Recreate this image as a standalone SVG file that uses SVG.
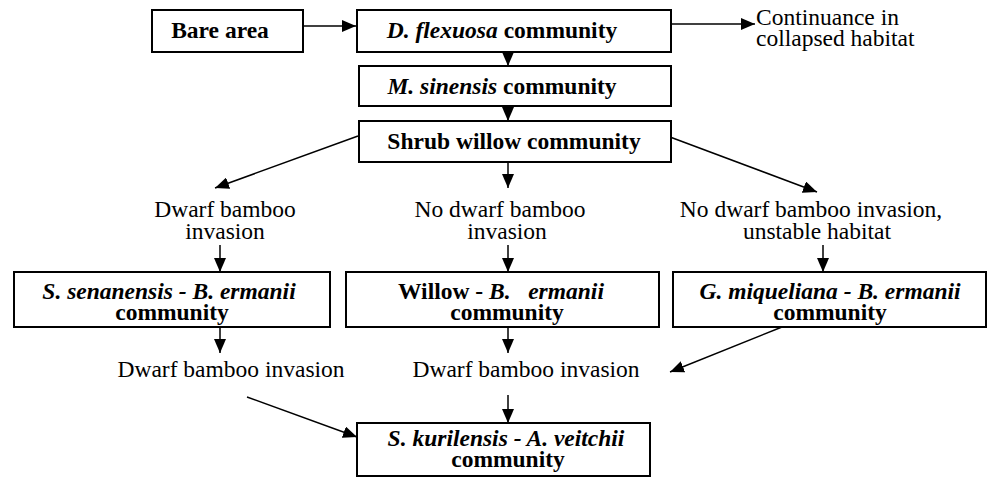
<svg xmlns="http://www.w3.org/2000/svg" width="988" height="479" viewBox="0 0 988 479">
<style>
text{font-family:"Liberation Serif","Times New Roman","DejaVu Serif",serif;font-size:23.5px;fill:#000}
.b{font-weight:bold}
.i{font-style:italic}
.box{fill:#fff;stroke:#000;stroke-width:2}
.c line{stroke:#000;stroke-width:1.5;marker-end:url(#ah)}
</style>
<defs>
<marker id="ah" markerUnits="userSpaceOnUse" markerWidth="14" markerHeight="12" refX="14" refY="6" orient="auto">
<path d="M0,0 L14,6 L0,12 z" fill="#000"/>
</marker>
</defs>
<rect width="988" height="479" fill="#fff"/>
<g id="connectors" class="c">
<line x1="303" y1="26" x2="356" y2="26"/>
<line x1="508" y1="52" x2="508" y2="66"/>
<line x1="508" y1="106" x2="508" y2="121"/>
<line x1="671" y1="24" x2="755" y2="24"/>
<line x1="358" y1="136" x2="215" y2="188"/>
<line x1="508" y1="162" x2="508" y2="188"/>
<line x1="670" y1="137" x2="817" y2="192"/>
<line x1="220" y1="245" x2="220" y2="272"/>
<line x1="508" y1="245" x2="508" y2="272"/>
<line x1="823" y1="245" x2="823" y2="272"/>
<line x1="220" y1="327" x2="220" y2="353"/>
<line x1="508" y1="327" x2="508" y2="353"/>
<line x1="782" y1="327" x2="670" y2="372"/>
<line x1="247" y1="397" x2="357" y2="437"/>
<line x1="508" y1="395" x2="508" y2="423"/>
</g>
<g font-family="Liberation Serif, Times New Roman, DejaVu Serif, serif">
<g id="bare">
<rect class="box" x="152" y="10" width="151" height="42"/>
<text class="b" x="220" y="38" text-anchor="middle">Bare area</text>
</g>
<g id="dflexuosa">
<rect class="box" x="357" y="10" width="314" height="42"/>
<text class="b" x="502" y="38" text-anchor="middle"><tspan class="i">D. flexuosa</tspan> community</text>
</g>
<g id="continuance">
<text x="756" y="25">Continuance in</text>
<text x="756" y="46">collapsed habitat</text>
</g>
<g id="msinensis">
<rect class="box" x="359" y="66" width="312" height="40"/>
<text class="b" x="502" y="94" text-anchor="middle"><tspan class="i">M. sinensis</tspan> community</text>
</g>
<g id="shrub">
<rect class="box" x="359" y="121" width="312" height="41"/>
<text class="b" x="514" y="149" text-anchor="middle">Shrub willow community</text>
</g>
<g id="lbl-left">
<text x="225" y="217" text-anchor="middle">Dwarf bamboo</text>
<text x="225" y="239" text-anchor="middle">invasion</text>
</g>
<g id="lbl-mid">
<text x="500" y="217" text-anchor="middle">No dwarf bamboo</text>
<text x="507" y="239" text-anchor="middle">invasion</text>
</g>
<g id="lbl-right">
<text x="811" y="217" text-anchor="middle">No dwarf bamboo invasion,</text>
<text x="817" y="239" text-anchor="middle">unstable habitat</text>
</g>
<g id="ssenanensis">
<rect class="box" x="14" y="272" width="316" height="55"/>
<text class="b i" x="169" y="299" text-anchor="middle">S. senanensis - B. ermanii</text>
<text class="b" x="172" y="320" text-anchor="middle">community</text>
</g>
<g id="willow">
<rect class="box" x="346" y="272" width="313" height="55"/>
<text class="b" x="501" y="299" text-anchor="middle" style="white-space:pre">Willow - <tspan class="i">B.   ermanii</tspan></text>
<text class="b" x="507" y="320" text-anchor="middle">community</text>
</g>
<g id="gmiqueliana">
<rect class="box" x="673" y="272" width="313" height="55"/>
<text class="b i" x="830" y="299" text-anchor="middle">G. miqueliana - B. ermanii</text>
<text class="b" x="830" y="320" text-anchor="middle">community</text>
</g>
<g id="lbl-bot-left">
<text x="231" y="377" text-anchor="middle">Dwarf bamboo invasion</text>
</g>
<g id="lbl-bot-mid">
<text x="526" y="377" text-anchor="middle">Dwarf bamboo invasion</text>
</g>
<g id="skurilensis">
<rect class="box" x="357" y="423" width="293" height="53"/>
<text class="b i" x="506" y="446" text-anchor="middle">S. kurilensis - A. veitchii</text>
<text class="b" x="508" y="467" text-anchor="middle">community</text>
</g>
</g>
</svg>
